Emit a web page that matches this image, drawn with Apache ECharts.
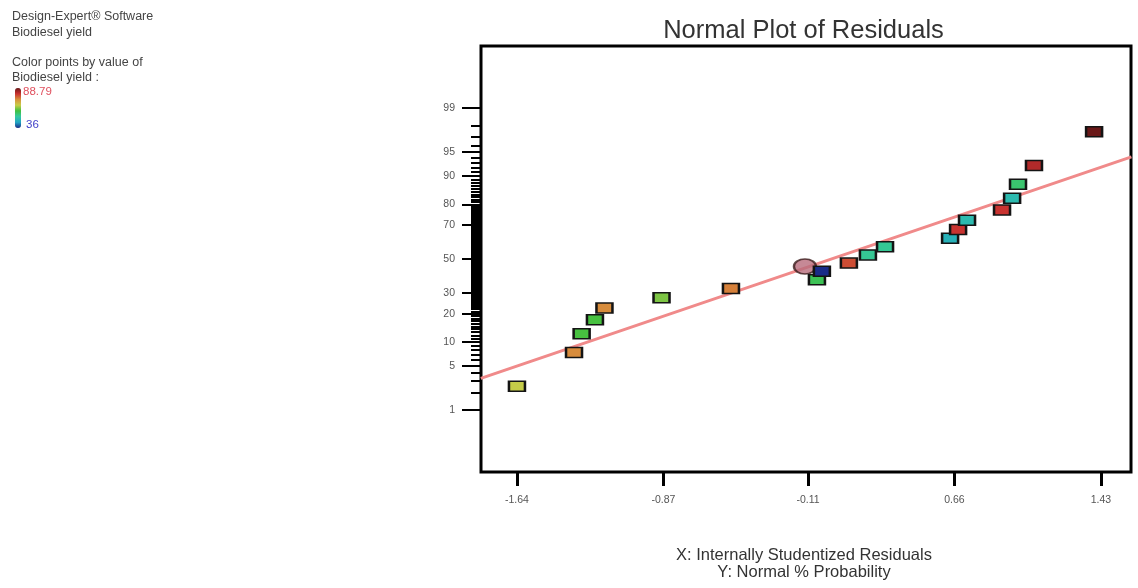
<!DOCTYPE html>
<html>
<head>
<meta charset="utf-8">
<title>Normal Plot of Residuals</title>
<script src="https://cdn.jsdelivr.net/npm/echarts@6/dist/echarts.min.js"></script>
<style>
  html, body { margin: 0; padding: 0; background: #fff; }
  #chart { width: 1138px; height: 588px; }
</style>
</head>
<body>
<div id="chart"></div>
<script>
// Internally studentized residuals, sorted ascending
const residuals = [-1.64, -1.34, -1.30, -1.23, -1.18, -0.88, -0.515, -0.063, -0.037, 0.105,
                   0.205, 0.295, 0.637, 0.679, 0.726, 0.91, 0.963, 0.994, 1.078, 1.394];
// Normal % probability of each residual
const normalPct = [2.5, 7.5, 12.5, 17.5, 22.5, 27.5, 32.5, 37.5, 42.5, 47.5,
                   52.5, 57.5, 62.5, 67.5, 72.5, 77.5, 82.5, 87.5, 92.5, 97.5];
// Biodiesel yield of each run (used for point colour)
const yieldValues = [66, 74, 59, 59, 74, 62, 75, 57, 36, 79,
                     52, 52, 46, 81, 48, 81, 48, 55, 83, 88.79];
const yieldRange = [36, 88.79];

// Highlighted point
const markedPoint = { residual: -0.126, pct: 45.4 };

// Reference line endpoints (residual, normal %)
const fitLineX = [-1.83, 1.59];
const fitLinePct = [3.3, 94.2];

// Axis ticks
const xTickValues = [-1.64, -0.87, -0.11, 0.66, 1.43];
const xTickLabels = ['-1.64', '-0.87', '-0.11', '0.66', '1.43'];
const yMajorPct = [1, 5, 10, 20, 30, 50, 70, 80, 90, 95, 99];
const yMinorPct = [];
for (let p = 2; p <= 98; p++) if (yMajorPct.indexOf(p) < 0) yMinorPct.push(p);

// Inverse standard normal CDF (Acklam) -- maps % probability onto the normal scale
function probit(p) {
  const a = [-3.969683028665376e+01, 2.209460984245205e+02, -2.759285104469687e+02, 1.383577518672690e+02, -3.066479806614716e+01, 2.506628277459239e+00];
  const b = [-5.447609879822406e+01, 1.615858368580409e+02, -1.556989798598866e+02, 6.680131188771972e+01, -1.328068155288572e+01];
  const c = [-7.784894002430293e-03, -3.223964580411365e-01, -2.400758277161838e+00, -2.549732539343734e+00, 4.374664141464968e+00, 2.938163982698783e+00];
  const d = [7.784695709101294e-03, 3.224671290700398e-01, 2.445134137142996e+00, 3.754408661907416e+00];
  const pl = 0.02425, ph = 1 - pl;
  let q, r;
  if (p < pl) {
    q = Math.sqrt(-2 * Math.log(p));
    return (((((c[0]*q+c[1])*q+c[2])*q+c[3])*q+c[4])*q+c[5]) / ((((d[0]*q+d[1])*q+d[2])*q+d[3])*q+1);
  }
  if (p <= ph) {
    q = p - 0.5; r = q * q;
    return (((((a[0]*r+a[1])*r+a[2])*r+a[3])*r+a[4])*r+a[5])*q / (((((b[0]*r+b[1])*r+b[2])*r+b[3])*r+b[4])*r+1);
  }
  q = Math.sqrt(-2 * Math.log(1 - p));
  return -(((((c[0]*q+c[1])*q+c[2])*q+c[3])*q+c[4])*q+c[5]) / ((((d[0]*q+d[1])*q+d[2])*q+d[3])*q+1);
}
const z = pct => probit(pct / 100);

const yMajorZ = yMajorPct.map(z);
const yMinorZ = yMinorPct.map(z);

const pointData = residuals.map((r, i) => [r, z(normalPct[i]), yieldValues[i]]);
const lineData = fitLineX.map((x, i) => [x, z(fitLinePct[i])]);

const FONT = '"Liberation Sans", Arial, sans-serif';
const chart = echarts.init(document.getElementById('chart'), null, { renderer: 'canvas' });

chart.setOption({
  backgroundColor: '#ffffff',
  animation: false,
  grid: {
    left: 481, top: 46, width: 650, height: 426,
    show: true, borderColor: '#000', borderWidth: 3, backgroundColor: 'transparent'
  },
  xAxis: {
    type: 'value', min: -1.829, max: 1.588, position: 'bottom',
    axisLine: { show: false, onZero: false },
    splitLine: { show: false },
    axisTick: { show: true, customValues: xTickValues, length: 14, lineStyle: { color: '#000', width: 3 } },
    axisLabel: {
      customValues: xTickValues, margin: 23, fontSize: 10.5, color: '#555', fontFamily: FONT,
      formatter: v => xTickLabels[xTickValues.findIndex(t => Math.abs(t - v) < 1e-9)]
    }
  },
  yAxis: [{
    type: 'value', min: -3.28, max: 3.28, position: 'left',
    axisLine: { show: false, onZero: false },
    splitLine: { show: false },
    axisTick: { show: true, customValues: yMajorZ, length: 19, lineStyle: { color: '#000', width: 2 } },
    axisLabel: {
      customValues: yMajorZ, margin: 26, fontSize: 10.5, color: '#555', fontFamily: FONT,
      formatter: v => String(yMajorPct[yMajorZ.findIndex(t => Math.abs(t - v) < 1e-9)])
    }
  }, {
    type: 'value', min: -3.28, max: 3.28, position: 'left', offset: 0,
    axisLine: { show: false, onZero: false },
    splitLine: { show: false },
    axisLabel: { show: false },
    axisTick: { show: true, customValues: yMinorZ, length: 10, lineStyle: { color: '#000', width: 2 } }
  }],
  visualMap: {
    type: 'continuous', seriesIndex: 0, dimension: 2,
    min: yieldRange[0], max: yieldRange[1],
    calculable: false, hoverLink: false,
    orient: 'vertical', left: 15, top: 88, itemWidth: 6, itemHeight: 40, padding: 0,
    text: null, showLabel: false,
    inRange: { color: ['#1a2c88', '#22a6c4', '#34c8a0', '#40c040', '#c8cc48', '#d8903c', '#c83030', '#6a1818'] }
  },
  graphic: [
    { type: 'text', left: 12, top: 10, style: { text: 'Design-Expert® Software', font: '12.5px ' + FONT, fill: '#444' } },
    { type: 'text', left: 12, top: 26, style: { text: 'Biodiesel yield', font: '12.5px ' + FONT, fill: '#444' } },
    { type: 'text', left: 12, top: 56, style: { text: 'Color points by value of', font: '12.5px ' + FONT, fill: '#444' } },
    { type: 'text', left: 12, top: 71, style: { text: 'Biodiesel yield :', font: '12.5px ' + FONT, fill: '#444' } },
    { type: 'text', left: 23, top: 86, style: { text: String(yieldRange[1]), font: '11.5px ' + FONT, fill: '#e0505e' } },
    { type: 'text', left: 26, top: 119, style: { text: String(yieldRange[0]), font: '11.5px ' + FONT, fill: '#4040c8' } },
    { type: 'text', x: 803.5, y: 31, style: { text: 'Normal Plot of Residuals', font: '25.5px ' + FONT, fill: '#333', align: 'center', verticalAlign: 'middle' } },
    { type: 'text', x: 804, y: 555, style: { text: 'X: Internally Studentized Residuals', font: '16.5px ' + FONT, fill: '#333', align: 'center', verticalAlign: 'middle' } },
    { type: 'text', x: 804, y: 572, style: { text: 'Y: Normal % Probability', font: '16.5px ' + FONT, fill: '#333', align: 'center', verticalAlign: 'middle' } }
  ],
  series: [{
    type: 'scatter', name: 'Residuals', z: 5,
    symbol: 'rect', symbolSize: [16, 10],
    itemStyle: { borderColor: '#141414', borderWidth: 2, opacity: 1 },
    data: pointData
  }, {
    type: 'line', name: 'Reference line', z: 2,
    showSymbol: false, silent: true,
    lineStyle: { color: '#f08a8a', width: 3 },
    data: lineData
  }, {
    type: 'scatter', name: 'Marked point', z: 3,
    symbol: 'circle', symbolSize: [22, 15],
    itemStyle: { color: '#b86c7c', borderColor: '#3a1a1a', borderWidth: 2 },
    data: [[markedPoint.residual, z(markedPoint.pct)]]
  }]
});
</script>
</body>
</html>
